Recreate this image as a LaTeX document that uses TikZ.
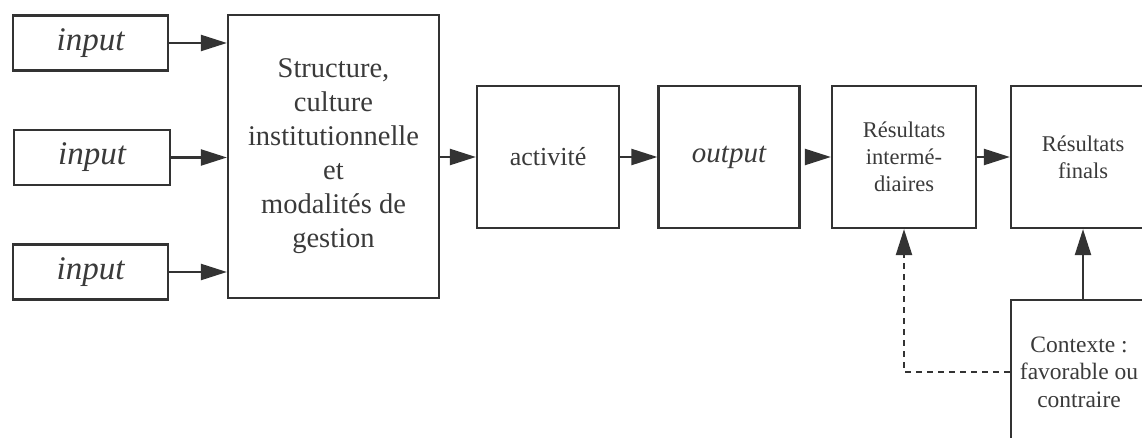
\documentclass[tikz,border=0pt]{standalone}
\usepackage{fontspec}
\setmainfont{Liberation Serif}
\usetikzlibrary{arrows.meta}
\definecolor{ink}{HTML}{333333}
\definecolor{txt}{HTML}{3A3A3A}
\tikzset{
  box/.style={draw=ink, line width=2.2pt, fill=white, text=txt, align=center,
              inner sep=0pt, anchor=center},
  arr/.style={draw=ink, line width=2.2pt,
              -{Triangle[length=26pt,width=16pt]}},
  dashedarr/.style={arr, dash pattern=on 6pt off 5pt},
  inputfont/.style={font=\fontsize{33}{38}\selectfont\itshape},
  bigfont/.style={font=\fontsize{28.5}{34}\selectfont},
  midfont/.style={font=\fontsize{26}{30}\selectfont},
  smallfont/.style={font=\fontsize{22.5}{27}\selectfont},
  ctxfont/.style={font=\fontsize{23.5}{27.5}\selectfont},
}
\begin{document}
\begin{tikzpicture}[x=1pt,y=-1pt]
  \useasboundingbox (0,0) rectangle (1142,438);
  \clip (0,0) rectangle (1142,438);
  \fill[white] (0,0) rectangle (1142,438);

  % inputs
  \node[box, inputfont, minimum width=155pt, minimum height=55pt] (in1) at (90.5,43) {input};
  \node[box, inputfont, minimum width=156pt, minimum height=55pt] (in2) at (92,157.5) {input};
  \node[box, inputfont, minimum width=155pt, minimum height=55pt] (in3) at (90.5,272) {input};

  % central block
  \node[box, bigfont, minimum width=211pt, minimum height=283pt] (big) at (333.5,156.5)
    {Structure,\\culture\\institutionnelle\\et\\modalités de\\gestion};

  % chain
  \node[box, midfont, minimum width=142pt, minimum height=142pt] (act) at (548,157) {activité};
  \node[box, font=\fontsize{29}{34}\selectfont\itshape, minimum width=141pt, minimum height=142pt] (out) at (729,157) {output};
  \node[box, smallfont, minimum width=144pt, minimum height=142pt] (ri) at (904,157)
    {Résultats\\intermé-\\diaires};
  \node[box, smallfont, minimum width=144pt, minimum height=142pt] (rf) at (1083,157)
    {Résultats\\finals};
  \node[box, ctxfont, minimum width=136pt, minimum height=144pt] (ctx) at (1079,372)
    {Contexte :\\favorable ou\\contraire};

  % connectors
  \draw[arr] (in1) -- (big.west |- in1);
  \draw[arr] (in2) -- (big.west |- in2);
  \draw[arr] (in3) -- (big.west |- in3);
  \draw[arr] (big.east |- act) -- (act);
  \draw[arr] (act) -- (out);
  \draw[arr, shorten <=7pt] (out) -- (ri);
  \draw[arr] (ri) -- (rf);
  \draw[arr] (ctx.north -| rf) -- (rf);

  \coordinate (bend) at (904,372);
  \draw[dashedarr] (ctx.west |- bend) -- (bend) -- (ri.south);
\end{tikzpicture}
\end{document}
